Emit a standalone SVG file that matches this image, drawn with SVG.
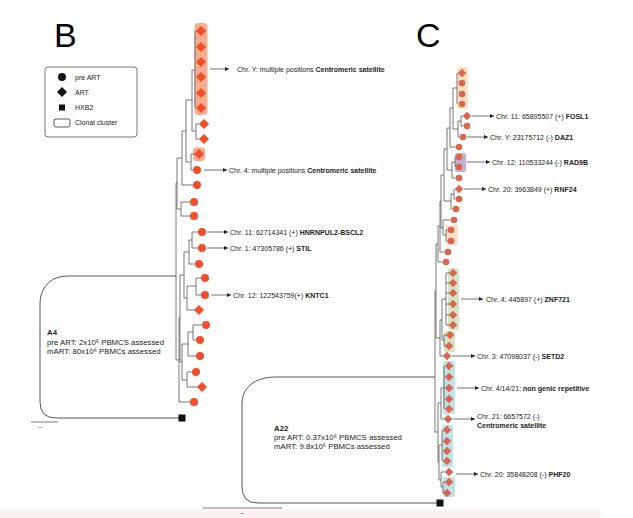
<svg xmlns="http://www.w3.org/2000/svg" xmlns:xlink="http://www.w3.org/1999/xlink" width="633" height="518" viewBox="0 0 633 518">
<style>
.t{stroke:#555;stroke-width:0.8;fill:none}
.lp{stroke:#444;stroke-width:0.9;fill:none}
.c1{fill:#EF4F2B}
.c2{fill:#DA6650}
.sq{fill:#111}
.ar{stroke:#333;stroke-width:0.7;fill:none;marker-end:url(#ah)}
.lbl{font-family:"Liberation Sans",Arial,sans-serif;font-size:7px;fill:#222}
.info{font-family:"Liberation Sans",Arial,sans-serif;font-size:7.8px;fill:#222}
.big{font-family:"Liberation Sans",Arial,sans-serif;font-size:34px;fill:#000}
.b{font-weight:bold}
.hB{fill:#F6AD8F}
.hP{fill:#FCE1C4}
.hV{fill:#C4B2D3}
.hG{fill:#D3E5C6}
.hC{fill:#BDE2EA}
</style>
<defs>
<marker id="ah" markerWidth="5" markerHeight="4" refX="4" refY="2" orient="auto" markerUnits="userSpaceOnUse"><path d="M0,0L4,2L0,4Z" fill="#222"/></marker>
<path id="dB" d="M0,-5.1L5.1,0L0,5.1L-5.1,0Z"/>
<path id="dC" d="M0,-4.3L4.3,0L0,4.3L-4.3,0Z"/>
<circle id="oB" r="4"/>
<circle id="oC" r="3.3"/>
</defs>
<rect width="633" height="518" fill="#fff"/>
<rect x="0" y="510" width="600" height="8" fill="#FDF1F1"/>

<!-- Panel labels -->
<text class="big" x="54" y="47">B</text>
<text class="big" x="416" y="47">C</text>

<!-- Legend -->
<g id="legend">
<rect x="45" y="67" width="92" height="70" rx="3" fill="#fff" stroke="#555" stroke-width="0.8"/>
<circle cx="62" cy="77" r="4" fill="#111"/>
<path d="M62,87L67,92L62,97L57,92Z" fill="#111"/>
<rect x="59" y="104.5" width="6" height="6" fill="#111"/>
<rect x="54" y="119" width="16" height="8" rx="2" fill="none" stroke="#333" stroke-width="0.8"/>
<text class="lbl" x="75" y="79.5">pre ART</text>
<text class="lbl" x="75" y="94.5">ART</text>
<text class="lbl" x="75" y="110">HXB2</text>
<text class="lbl" x="75" y="125">Clonal cluster</text>
</g>

<!-- Clonal cluster highlights -->
<g id="clusters">
<rect class="hB" x="194.5" y="23" width="13" height="92" rx="4"/>
<rect class="hB" x="193" y="147.5" width="12" height="13.5" rx="3"/>
<rect class="hP" x="457" y="67" width="11" height="42" rx="2"/>
<rect class="hV" x="455" y="153" width="11" height="19" rx="2"/>
<rect class="hP" x="446" y="225" width="12" height="20" rx="2"/>
<rect class="hG" x="448" y="268" width="11" height="62" rx="2"/>
<rect class="hG" x="444" y="331" width="11" height="21" rx="2"/>
<rect class="hC" x="443" y="361" width="12" height="53" rx="2"/>
<rect class="hC" x="442" y="425" width="11" height="42" rx="2"/>
<rect class="hC" x="443" y="477" width="12" height="20" rx="2"/>
</g>

<!-- Connectors -->
<g id="connectors">
<path class="t" d="M195,31V108 M196,124V139 M196,124H199 M196,139H199 M192,70V131 M192,70H195 M192,131H196 M191,154V170 M191,154H194 M191,170H193.5 M186,100V162 M186,100H192 M186,162H191 M182,131V185 M182,131H186 M182,185H193.5 M181,202V216 M181,202H190.5 M181,216H190.5 M177,158V209 M177,158H182 M177,209H181 M192,232V248 M192,232H198.5 M192,248H198.5 M189,240V264 M189,240H192 M189,264H195.5 M196,278V295 M196,278H201.5 M196,295H201.5 M187,286V310 M187,286H196 M187,310H194.5 M184,252V298 M184,252H189 M184,298H187 M193,325V340 M193,325H202.5 M193,340H196.5 M188,332V356 M188,332H193 M188,356H196.5 M187,372V387 M187,372H192.5 M187,387H197.5 M182,344V380 M182,344H188 M182,380H187 M180,275V362 M180,275H184 M180,362H182 M179,318V402 M179,318H180 M179,402H190.5 M176,183V360 M176,183H177 M176,360H179"/>
<path class="lp" d="M176,276H68C50,276 40,288 40,304V402Q40,418 56,418H179"/>
<path class="t" d="M457,73V104 M461,116V126 M461,116H463 M461,126H463.5 M458,121V137 M458,121H461 M458,137H459.5 M453,88V129 M453,88H457 M453,129H458 M450,108V147 M450,108H453 M450,147H455.5 M455,157V167 M452,162V178 M452,162H455 M452,178H455.5 M447,128V170 M447,128H450 M447,170H452 M454,189V199 M454,199H455.5 M451,194V209 M451,194H454 M451,209H452.5 M444,149V201 M444,149H447 M444,201H451 M446,230V241 M446,230H447.5 M446,241H447.5 M443,220V235 M443,220H450.5 M443,235H446 M441,175V228 M441,175H444 M441,228H443 M440,201V252 M440,201H441 M440,252H444.5 M438,226V262 M438,226H440 M438,262H442.5 M446,273V325 M446,273H449 M446,283H449 M446,293H449 M446,304H449 M446,315H449 M446,325H449 M444,335V346 M444,335H446 M444,346H445 M442,299V340 M442,299H446 M442,340H444 M440,320V356 M440,320H442 M440,356H443 M436,244V338 M436,244H438 M436,338H440 M444,366V409 M441,388V419 M441,388H444 M441,419H444 M442,430V461 M443,482V493 M443,482H445 M441,472V487 M441,472H445 M441,487H443 M439,445V480 M439,445H442 M439,480H441 M438,403V462 M438,403H441 M438,462H439 M435,291V432 M435,291H436 M435,432H438"/>
<path class="lp" d="M435,377H276C254,377 242,388 242,404V487Q242,503 258,503H437"/>
<!-- arrows B -->
<path class="ar" d="M210,69H229"/>
<path class="ar" d="M204,170H227"/>
<path class="ar" d="M207,232H228"/>
<path class="ar" d="M207,248H228"/>
<path class="ar" d="M211,295H231"/>
<!-- arrows C -->
<path class="ar" d="M472,116H494"/>
<path class="ar" d="M467,137H488"/>
<path class="ar" d="M467,162H490"/>
<path class="ar" d="M464,189H486"/>
<path class="ar" d="M461,299H483"/>
<path class="ar" d="M452,356H475"/>
<path class="ar" d="M457,388H479"/>
<path class="ar" d="M453,419H475"/>
<path class="ar" d="M456,474H478"/>
<!-- scale bars -->
<path d="M31,422H58" stroke="#555" stroke-width="0.8"/>
<path d="M38.5,427.5H42" stroke="#777" stroke-width="0.6"/>
<path d="M203,508H282" stroke="#555" stroke-width="0.8"/>
<path d="M240.5,513.5H244" stroke="#777" stroke-width="0.6"/>
</g>

<!-- Panel B tips -->
<g id="B-tips" class="c1">
<g id="b1"><use href="#dB" x="201" y="31"/></g>
<g id="b2"><use href="#dB" x="201" y="47"/></g>
<g id="b3"><use href="#dB" x="201" y="62"/></g>
<g id="b4"><use href="#dB" x="201" y="77"/></g>
<g id="b5"><use href="#dB" x="201" y="93"/></g>
<g id="b6"><use href="#dB" x="201" y="108"/></g>
<g id="b7"><use href="#dB" x="204" y="124"/></g>
<g id="b8"><use href="#dB" x="204" y="139"/></g>
<g id="b9"><use href="#dB" x="199" y="154"/></g>
<g id="b10"><use href="#oB" x="197" y="170"/></g>
<g id="b11"><use href="#oB" x="197" y="185"/></g>
<g id="b12"><use href="#oB" x="194" y="202"/></g>
<g id="b13"><use href="#oB" x="194" y="216"/></g>
<g id="b14"><use href="#oB" x="202" y="232"/></g>
<g id="b15"><use href="#oB" x="202" y="248"/></g>
<g id="b16"><use href="#oB" x="199" y="264"/></g>
<g id="b17"><use href="#oB" x="205" y="278"/></g>
<g id="b18"><use href="#oB" x="205" y="295"/></g>
<g id="b19"><use href="#dB" x="199" y="310"/></g>
<g id="b20"><use href="#oB" x="206" y="325"/></g>
<g id="b21"><use href="#oB" x="200" y="340"/></g>
<g id="b22"><use href="#oB" x="200" y="356"/></g>
<g id="b23"><use href="#oB" x="196" y="372"/></g>
<g id="b24"><use href="#dB" x="202" y="387"/></g>
<g id="b25"><use href="#oB" x="194" y="402"/></g>
<g id="b-hxb2"><rect class="sq" x="178.5" y="414.5" width="7" height="7"/></g>
</g>

<!-- Panel C tips -->
<g id="C-tips" class="c2">
<g id="c1"><use href="#dC" x="462" y="73"/></g>
<g id="c2"><use href="#oC" x="462" y="83"/></g>
<g id="c3"><use href="#oC" x="462" y="94"/></g>
<g id="c4"><use href="#oC" x="462" y="104"/></g>
<g id="c5"><use href="#dC" x="467" y="116"/></g>
<g id="c6"><use href="#oC" x="467" y="126"/></g>
<g id="c7"><use href="#oC" x="463" y="137"/></g>
<g id="c8"><use href="#oC" x="459" y="147"/></g>
<g id="c9"><use href="#oC" x="459" y="157"/></g>
<g id="c10"><use href="#oC" x="459" y="167"/></g>
<g id="c11"><use href="#oC" x="459" y="178"/></g>
<g id="c12"><use href="#dC" x="459" y="189"/></g>
<g id="c13"><use href="#oC" x="459" y="199"/></g>
<g id="c14"><use href="#oC" x="456" y="209"/></g>
<g id="c15"><use href="#oC" x="454" y="220"/></g>
<g id="c16"><use href="#oC" x="451" y="230"/></g>
<g id="c17"><use href="#oC" x="451" y="241"/></g>
<g id="c18"><use href="#oC" x="448" y="252"/></g>
<g id="c19"><use href="#oC" x="446" y="262"/></g>
<g id="c20"><use href="#dC" x="453" y="273"/></g>
<g id="c21"><use href="#dC" x="453" y="283"/></g>
<g id="c22"><use href="#dC" x="453" y="293"/></g>
<g id="c23"><use href="#dC" x="453" y="304"/></g>
<g id="c24"><use href="#dC" x="453" y="315"/></g>
<g id="c25"><use href="#dC" x="453" y="325"/></g>
<g id="c26"><use href="#dC" x="450" y="335"/></g>
<g id="c27"><use href="#dC" x="449" y="346"/></g>
<g id="c28"><use href="#dC" x="447" y="356"/></g>
<g id="c29"><use href="#dC" x="449" y="366"/></g>
<g id="c30"><use href="#dC" x="449" y="377"/></g>
<g id="c31"><use href="#dC" x="449" y="388"/></g>
<g id="c32"><use href="#dC" x="449" y="399"/></g>
<g id="c33"><use href="#dC" x="449" y="409"/></g>
<g id="c34"><use href="#dC" x="448" y="419"/></g>
<g id="c35"><use href="#dC" x="447" y="430"/></g>
<g id="c36"><use href="#dC" x="447" y="441"/></g>
<g id="c37"><use href="#dC" x="447" y="451"/></g>
<g id="c38"><use href="#dC" x="447" y="461"/></g>
<g id="c39"><use href="#dC" x="449" y="472"/></g>
<g id="c40"><use href="#dC" x="449" y="482"/></g>
<g id="c41"><use href="#dC" x="447" y="493"/></g>
<g id="c-hxb2"><rect class="sq" x="436.5" y="499.5" width="7" height="7"/></g>
</g>

<!-- Labels B -->
<g id="B-labels">
<text class="lbl" x="237" y="71.5">Chr. Y: multiple positions <tspan class="b">Centromeric satellite</tspan></text>
<text class="lbl" x="229" y="172.5">Chr. 4: multiple positions <tspan class="b">Centromeric satellite</tspan></text>
<text class="lbl" x="230" y="234.5">Chr. 11: 62714341 (+) <tspan class="b">HNRNPUL2-BSCL2</tspan></text>
<text class="lbl" x="230" y="250.5">Chr. 1: 47305786 (+) <tspan class="b">STIL</tspan></text>
<text class="lbl" x="233" y="297.5">Chr. 12: 122543759(+) <tspan class="b">KNTC1</tspan></text>
<text class="info b" x="47" y="335">A4</text>
<text class="info" x="47" y="344.5">pre ART: 2x10⁶ PBMCS assessed</text>
<text class="info" x="47" y="353.5">mART: 80x10⁶ PBMCs assessed</text>
</g>

<!-- Labels C -->
<g id="C-labels">
<text class="lbl" x="496" y="118.5">Chr. 11: 65895507 (+) <tspan class="b">FOSL1</tspan></text>
<text class="lbl" x="490" y="139.5">Chr. Y: 23175712 (-) <tspan class="b">DAZ1</tspan></text>
<text class="lbl" x="492" y="164.5">Chr. 12: 110533244 (-) <tspan class="b">RAD9B</tspan></text>
<text class="lbl" x="488" y="191.5">Chr. 20: 3963849 (+) <tspan class="b">RNF24</tspan></text>
<text class="lbl" x="486" y="301.5">Chr. 4: 445897 (+) <tspan class="b">ZNF721</tspan></text>
<text class="lbl" x="477" y="358.5">Chr. 3: 47098037 (-) <tspan class="b">SETD2</tspan></text>
<text class="lbl" x="481" y="390.5">Chr. 4/14/21: <tspan class="b">non genic repetitive</tspan></text>
<text class="lbl" x="477" y="419.2">Chr. 21: 6657572 (-)</text>
<text class="lbl b" x="477" y="428">Centromeric satellite</text>
<text class="lbl" x="480" y="476.5">Chr. 20: 35848208 (-) <tspan class="b">PHF20</tspan></text>
<text class="info b" x="274" y="430.5">A22</text>
<text class="info" x="274" y="439.5">pre ART: 0.37x10⁶ PBMCS assessed</text>
<text class="info" x="274" y="448.5">mART: 9.8x10⁶ PBMCs assessed</text>
</g>
</svg>
